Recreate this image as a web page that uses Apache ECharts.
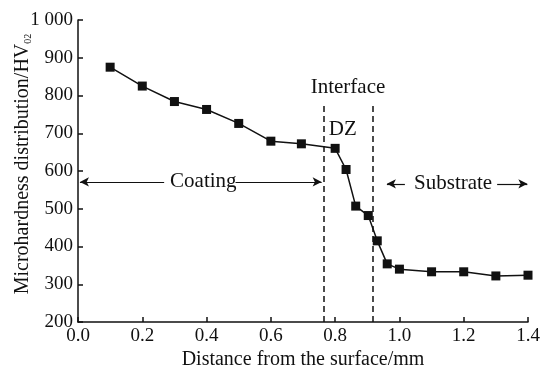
<!DOCTYPE html>
<html>
<head>
<meta charset="utf-8">
<script src="https://cdn.jsdelivr.net/npm/echarts@6/dist/echarts.min.js"></script>
<style>
html, body { margin: 0; padding: 0; background: #fff; }
#chart { width: 543px; height: 367px; }
</style>
</head>
<body>
<div id="chart"></div>
<script>
// measured points
var distance = [0.1, 0.2, 0.3, 0.4, 0.5, 0.6, 0.695, 0.8, 0.834, 0.864, 0.903, 0.931, 0.962, 1.0, 1.1, 1.2, 1.3, 1.4];
var hardness = [875, 825, 784, 763, 726, 679, 672, 660, 604, 507, 482, 415, 354, 340, 333, 333, 322, 324];

// dashed boundaries of the diffusion zone
var interfaceX = [0.765, 0.916];
var interfaceTop = 783;

// annotation texts [text, x, y]
var notes = [
	['Interface', 0.84, 820],
	['DZ', 0.824, 709],
	['Coating', 0.39, 571],
	['Substrate', 1.167, 566]
];

// arrow segments [x1, x2, y, arrowAtStart, arrowAtEnd]
var arrows = [
	[0.006, 0.268, 571, true, false],
	[0.49, 0.758, 571, false, true],
	[1.017, 0.961, 566, false, true],
	[1.304, 1.398, 566, false, true]
];

var font = 'Liberation Serif, Times New Roman, serif';

var myChart = echarts.init(document.getElementById('chart'));

var markData = [];
interfaceX.forEach(function(x) {
	markData.push([
		{coord: [x, 200], symbol: 'none', lineStyle: {type: [6, 4], width: 1.5, color: '#111'}},
		{coord: [x, interfaceTop], symbol: 'none'}
	]);
});
arrows.forEach(function(a) {
	markData.push([
		{coord: [a[0], a[2]], symbol: a[3] ? 'arrow' : 'none', symbolSize: [7, 9], lineStyle: {type: 'solid', width: 1.2, color: '#111'}},
		{coord: [a[1], a[2]], symbol: a[4] ? 'arrow' : 'none', symbolSize: [7, 9]}
	]);
});

var option = {
	backgroundColor: '#fff',
	animation: false,
	grid: {left: 78, right: 15, top: 20, bottom: 45, outerBoundsMode: 'none'},
	xAxis: {
		type: 'value',
		min: 0, max: 1.4, interval: 0.2,
		name: 'Distance from the surface/mm',
		nameLocation: 'middle',
		nameGap: 28,
		nameMoveOverlap: false,
		nameTextStyle: {fontFamily: font, fontSize: 20, color: '#111'},
		axisLine: {lineStyle: {color: '#111', width: 1.5}},
		axisTick: {inside: true, length: 5, lineStyle: {color: '#111', width: 1.5}},
		axisLabel: {fontFamily: font, fontSize: 19, color: '#111', margin: 5,
			formatter: function(v) { return v.toFixed(1); }},
		splitLine: {show: false}
	},
	yAxis: {
		type: 'value',
		min: 200, max: 1000, interval: 100,
		name: '{a|Microhardness distribution/HV}{s|02}',
		nameLocation: 'middle',
		nameGap: 45,
		nameRotate: 90,
		nameMoveOverlap: false,
		nameTextStyle: {
			padding: [0, 0, 0, 14],
			rich: {
				a: {fontFamily: font, fontSize: 20, color: '#111'},
				s: {fontFamily: font, fontSize: 10, color: '#111', verticalAlign: 'bottom'}
			}
		},
		axisLine: {lineStyle: {color: '#111', width: 1.5}},
		axisTick: {inside: true, length: 5, lineStyle: {color: '#111', width: 1.5}},
		axisLabel: {fontFamily: font, fontSize: 19, color: '#111', margin: 5,
			formatter: function(v) { return v === 1000 ? '1 000' : String(v); }},
		splitLine: {show: false}
	},
	series: [
		{
			type: 'line',
			data: distance.map(function(x, i) { return [x, hardness[i]]; }),
			symbol: 'rect',
			symbolSize: 9,
			itemStyle: {color: '#111'},
			lineStyle: {color: '#111', width: 1.5},
			markLine: {
				silent: true,
				animation: false,
				label: {show: false},
				data: markData
			},
			z: 3
		},
		{
			type: 'scatter',
			data: notes.map(function(n) { return {name: n[0], value: [n[1], n[2]]}; }),
			symbolSize: 0,
			silent: true,
			itemStyle: {opacity: 1},
			label: {
				show: true,
				position: 'inside',
				formatter: '{b}',
				fontFamily: font,
				fontSize: 21,
				color: '#111',
				textBorderWidth: 0,
				opacity: 1
			},
			z: 4
		}
	]
};

myChart.setOption(option);
</script>
</body>
</html>
